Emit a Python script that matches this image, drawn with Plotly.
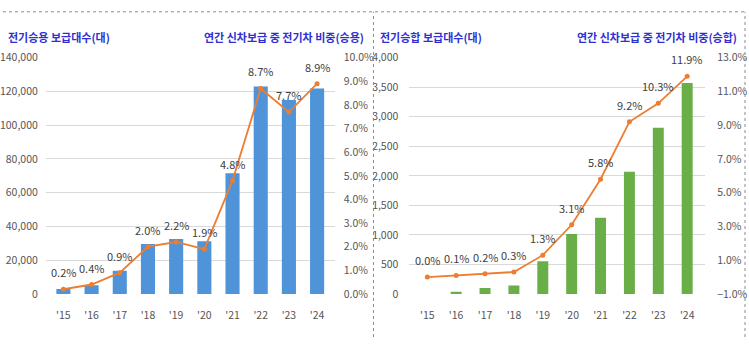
import plotly.graph_objects as go

years = ["'15", "'16", "'17", "'18", "'19", "'20", "'21", "'22", "'23", "'24"]

# Left panel: electric passenger cars
car_units = [2900, 5100, 13800, 29600, 32600, 31300, 71500, 123000, 115000, 121700]
car_share = [0.2, 0.4, 0.9, 2.0, 2.2, 1.9, 4.8, 8.7, 7.7, 8.9]

# Right panel: electric buses
bus_units = [0, 37, 102, 145, 555, 1015, 1290, 2071, 2815, 3570]
bus_share = [0.0, 0.1, 0.2, 0.3, 1.3, 3.1, 5.8, 9.2, 10.3, 11.9]

left_title = "전기승용 보급대수(대)"
left_title_r = "연간 신차보급 중 전기차 비중(승용)"
right_title = "전기승합 보급대수(대)"
right_title_r = "연간 신차보급 중 전기차 비중(승합)"

FONT = "Noto Sans CJK KR"
TICK = dict(family=FONT, size=10.5, color="#555555")
ORANGE = "#ED7D31"
W, H = 749, 344

def px_x(p):
    return p / W

def px_y(p):
    return 1 - p / H

fig = go.Figure()

fig.add_trace(go.Bar(x=years, y=car_units, marker=dict(color="#4f94d8", line=dict(width=0)),
                     width=0.5, xaxis="x", yaxis="y", showlegend=False))
fig.add_trace(go.Scatter(x=years, y=car_share, mode="lines+markers",
                         line=dict(color=ORANGE, width=1.8),
                         marker=dict(color=ORANGE, size=5),
                         xaxis="x", yaxis="y2", showlegend=False))
fig.add_trace(go.Bar(x=years, y=bus_units, marker=dict(color="#69ae46", line=dict(width=0)),
                     width=0.38, xaxis="x2", yaxis="y3", showlegend=False))
fig.add_trace(go.Scatter(x=years, y=bus_share, mode="lines+markers",
                         line=dict(color=ORANGE, width=1.8),
                         marker=dict(color=ORANGE, size=5),
                         xaxis="x2", yaxis="y4", showlegend=False))

ydom = [px_y(299), px_y(52)]

annotations = []
for xs, ys, yref, xref in [(years, car_share, "y2", "x"), (years, bus_share, "y4", "x2")]:
    for xv, yv in zip(xs, ys):
        annotations.append(dict(x=xv, y=yv, xref=xref, yref=yref, text=f"{yv:.1f}%",
                                showarrow=False, yshift=17, yanchor="middle",
                                font=dict(family=FONT, size=11, color="#404040")))

title_font = dict(family=FONT, size=11, color="#3030d0")
annotations += [
    dict(x=px_x(3), y=px_y(30), xref="paper", yref="paper", text=f"<b>{left_title}</b>",
         xanchor="left", yanchor="middle", showarrow=False, font=title_font),
    dict(x=px_x(364), y=px_y(30), xref="paper", yref="paper", text=f"<b>{left_title_r}</b>",
         xanchor="right", yanchor="middle", showarrow=False, font=title_font),
    dict(x=px_x(377), y=px_y(30), xref="paper", yref="paper", text=f"<b>{right_title}</b>",
         xanchor="left", yanchor="middle", showarrow=False, font=title_font),
    dict(x=px_x(739), y=px_y(30), xref="paper", yref="paper", text=f"<b>{right_title_r}</b>",
         xanchor="right", yanchor="middle", showarrow=False, font=title_font),
]

dot = dict(color="#8c8c8c", width=1, dash="dot")
shapes = [
    dict(type="line", xref="paper", yref="paper", x0=0, x1=px_x(745), y0=px_y(4), y1=px_y(4), line=dot),
    dict(type="line", xref="paper", yref="paper", x0=px_x(372), x1=px_x(372), y0=0, y1=px_y(4), line=dot),
    dict(type="line", xref="paper", yref="paper", x0=px_x(745), x1=px_x(745), y0=0, y1=px_y(4), line=dot),
]

xcommon = dict(type="category", showgrid=False, showline=False, zeroline=False,
               ticks="", tickfont=dict(family=FONT, size=10.5, color="#555555"),
               ticklabelstandoff=14)

fig.update_layout(
    width=W, height=H, margin=dict(l=0, r=0, t=0, b=0),
    paper_bgcolor="white", plot_bgcolor="white",
    bargap=0.5,
    xaxis=dict(domain=[px_x(43), px_x(333)], anchor="y", **xcommon),
    yaxis=dict(domain=ydom, range=[0, 140000], dtick=20000, tickformat=",",
               showgrid=True, gridcolor="#d9d9d9", gridwidth=1, zeroline=False,
               showline=False, tickfont=TICK, ticklabelstandoff=7, anchor="x"),
    yaxis2=dict(overlaying="y", side="right", range=[0, 10], dtick=1, tickformat=".1f",
                ticksuffix="%", showgrid=False, zeroline=False, showline=False,
                tickfont=TICK, ticklabelstandoff=8, anchor="x"),
    xaxis2=dict(domain=[px_x(408), px_x(705)], anchor="y3", **xcommon),
    yaxis3=dict(domain=ydom, range=[0, 4000], dtick=500, tickformat=",",
                showgrid=True, gridcolor="#d9d9d9", gridwidth=1, zeroline=False,
                showline=False, tickfont=TICK, ticklabelstandoff=10, anchor="x2"),
    yaxis4=dict(overlaying="y3", side="right", range=[-1, 13], dtick=2, tick0=-1,
                tickformat=".1f", ticksuffix="%", showgrid=False, zeroline=False,
                showline=False, tickfont=TICK, ticklabelstandoff=11, anchor="x2"),
    annotations=annotations, shapes=shapes,
)

fig.write_html("out.html")
